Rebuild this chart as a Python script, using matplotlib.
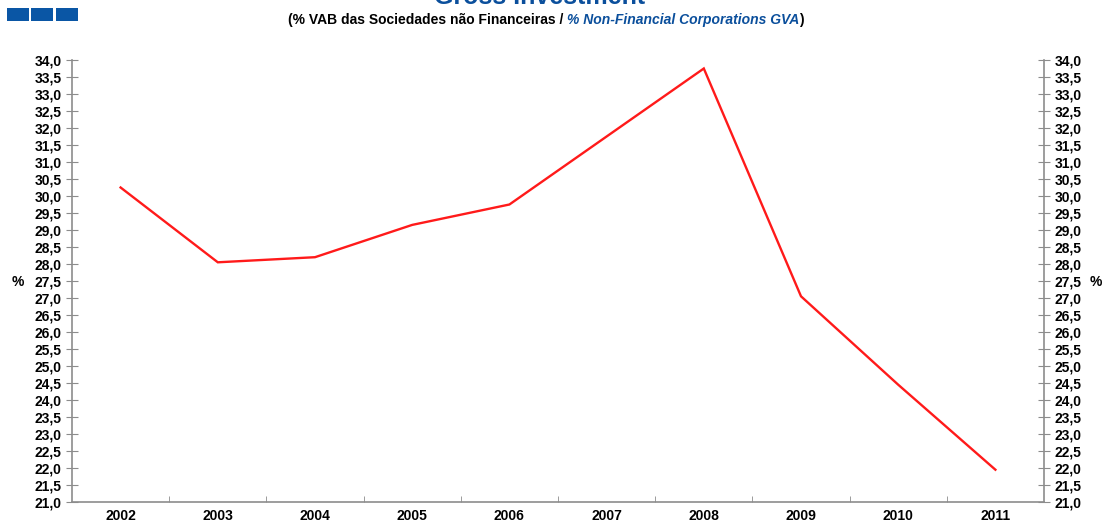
import numpy as np
import matplotlib.pyplot as plt
from matplotlib.patches import Rectangle

plt.rcParams['font.family'] = ['Liberation Sans', 'DejaVu Sans']

# data
anos = ['2002', '2003', '2004', '2005', '2006', '2007', '2008', '2009', '2010', '2011']
investimento = [30.25, 28.05, 28.2, 29.15, 29.75, 31.75, 33.75, 27.05, 24.45, 21.95]
y_ticks = np.arange(21.0, 34.01, 0.5)
y_labels = [('%.1f' % v).replace('.', ',') for v in y_ticks]

azul = '#0b4f9c'
cinza = '#8c8c8c'

fig = plt.figure(figsize=(11.04, 5.24), dpi=100)
ax = fig.add_axes([72/1104, 1 - 502/524, (1044 - 72)/1104, (502 - 60)/524])

x = np.arange(len(anos))
ax.plot(x, investimento, color='#ff1a1a', lw=1.7, solid_joinstyle='miter')

ax.set_xlim(-0.5, len(anos) - 0.5)
ax.set_ylim(21.0, 34.0)

ax.set_xticks(x)
ax.set_xticklabels(anos, fontsize=10, fontweight='bold')
ax.set_xticks(np.arange(0.5, len(anos) - 0.5, 1), minor=True)
ax.tick_params(axis='x', which='major', length=0, pad=5)
ax.tick_params(axis='x', which='minor', direction='in', length=4, color=cinza)

ax.set_yticks(y_ticks)
ax.set_yticklabels(y_labels, fontsize=10, fontweight='bold')
ax.tick_params(axis='y', direction='inout', length=9, color=cinza, pad=3,
               left=True, right=True, labelleft=True, labelright=True)

for s in ['left', 'right', 'bottom']:
    ax.spines[s].set_color(cinza)
    ax.spines[s].set_linewidth(1.2)
ax.spines['top'].set_visible(False)

fig.text(12/1104, 1 - 282/524, '%', fontsize=10, fontweight='bold',
         ha='left', va='center')
fig.text(1102/1104, 1 - 282/524, '%', fontsize=10, fontweight='bold',
         ha='right', va='center')

# header squares
for x0 in [7, 31, 56]:
    fig.patches.append(Rectangle((x0/1104, 1 - 21/524), 22/1104, 13/524,
                                 transform=fig.transFigure, color='#0a56a5', lw=0))

# title mostly cut off at the top
fig.text(540/1104, 1 - 4/524, 'Gross Investment', color=azul, fontsize=18,
         fontweight='bold', ha='center', va='baseline')

# subtitle in two colours
t1 = fig.text(288/1104, 1 - 20/524, '(% VAB das Sociedades não Financeiras / ',
              fontsize=10, fontweight='bold', ha='left', va='center')
fig.canvas.draw()
bb = t1.get_window_extent()
t2 = fig.text(bb.x1/1104, 1 - 20/524, '% Non-Financial Corporations GVA',
              fontsize=10, fontweight='bold', style='italic', color=azul,
              ha='left', va='center')
bb2 = t2.get_window_extent()
fig.text(bb2.x1/1104, 1 - 20/524, ')', fontsize=10, fontweight='bold',
         ha='left', va='center')

fig.savefig('out.png', dpi=100)
